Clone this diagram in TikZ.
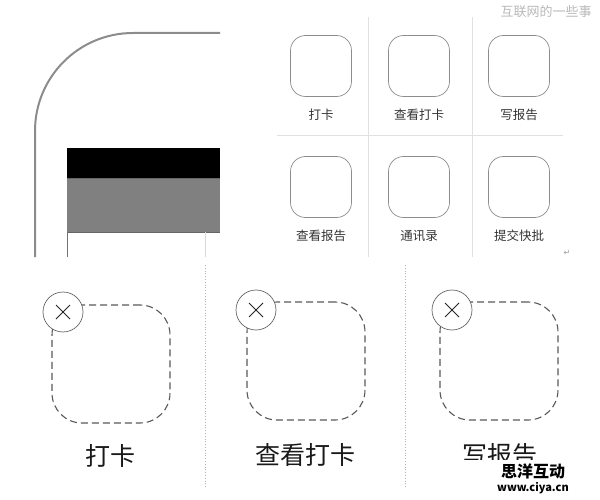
\documentclass[tikz,border=0pt]{standalone}
\usepackage{fontspec}
\usetikzlibrary{positioning}
\newfontfamily\cjk{Noto Sans CJK SC}
\newfontfamily\djv{DejaVu Sans}
\begin{document}
\begin{tikzpicture}[x=1pt,y=-1pt,
  icon/.style={draw=black!45,line width=0.7pt,rounded corners=15pt,minimum width=61pt,minimum height=61pt,inner sep=0pt},
  small/.style={font=\cjk\fontsize{12.5}{13}\selectfont,text=black!80,inner sep=0pt},
  big/.style={font=\cjk\fontsize{25}{26}\selectfont,text=black!90,inner sep=0pt},
  dicon/.style={draw=black!65,dash pattern=on 7pt off 4pt,line width=1.1pt,rounded corners=30pt,minimum width=118pt,minimum height=118pt,inner sep=0pt},
  closebtn/.style={circle,draw=black!60,fill=white,line width=0.7pt,minimum size=40pt,inner sep=0pt},
  grid/.style={draw=black!12,line width=0.7pt},
  sep/.style={draw=black!30,line width=0.8pt,dotted}]
\useasboundingbox (0,0) rectangle (600,500);
% phone frame
\draw[black!45,line width=2pt] (35,257) -- (35,131) arc[start angle=180,end angle=270,radius=98] -- (220,33);
\fill[black] (67,148) rectangle (220,178);
\fill[black!50] (67,178) rectangle (220,232);
\draw[black!60,line width=0.6pt] (67,178) -- (220,178);
\draw[black!60,line width=0.8pt] (67,232) -- (220,232);
\draw[black!55,line width=0.6pt] (67,232) -- (67,257);
\draw[black!15,line width=0.6pt] (205,232) -- (205,257);
% top grid
\draw[grid] (368,17) -- (368,257);
\draw[grid] (472,17) -- (472,257);
\draw[grid] (277,135) -- (563,135);
\node[icon] (i1) at (321,66) {};
\node[icon] (i2) at (419,66) {};
\node[icon] (i3) at (519,66) {};
\node[icon] (i4) at (321,187) {};
\node[icon] (i5) at (419,187) {};
\node[icon] (i6) at (519,187) {};
\node[small,below=12pt of i1] (l1) {打卡};
\node[small,below=12pt of i2] (l2) {查看打卡};
\node[small,below=12pt of i3] (l3) {写报告};
\node[small,below=12pt of i4] (l4) {查看报告};
\node[small,below=12pt of i5] (l5) {通讯录};
\node[small,below=12pt of i6] (l6) {提交快批};
\node[font=\djv\fontsize{8}{8}\selectfont,text=black!40,inner sep=0pt] (ret) at (567,253) {↵};
\node[font=\cjk\fontsize{13}{14}\selectfont,text=black!28,inner sep=0pt] (wm) at (546,12) {互联网的一些事};
% bottom separators
\draw[sep] (205,265) -- (205,487);
\draw[sep] (405,265) -- (405,487);
% big dashed icons
\node[dicon] (d1) at (111,364) {};
\node[dicon] (d2) at (306,361) {};
\node[dicon] (d3) at (499,361) {};
\foreach \n/\x/\y in {c1/63/312,c2/256/310,c3/452/310}{
  \node[closebtn] (\n) at (\x,\y) {};
  \draw[black!85,line width=0.9pt] ([shift={(-7,-7)}]\n.center) -- ([shift={(7,7)}]\n.center);
  \draw[black!85,line width=0.9pt] ([shift={(-7,7)}]\n.center) -- ([shift={(7,-7)}]\n.center);
}
\node[big] (b1) at (110,456) {打卡};
\node[big] (b2) at (305,455) {查看打卡};
\node[big] (b3) at (500,455) {写报告};
\fill[white] (455,460) rectangle (600,500);
% bottom watermark
\node[font=\cjk\bfseries\fontsize{16}{16}\selectfont,inner sep=0pt] (wm2) at (533,471) {思洋互动};
\node[font=\cjk\bfseries\fontsize{11}{11}\selectfont,inner sep=0pt] (wm3) at (533,488) {www.ciya.cn};
\end{tikzpicture}
\end{document}
